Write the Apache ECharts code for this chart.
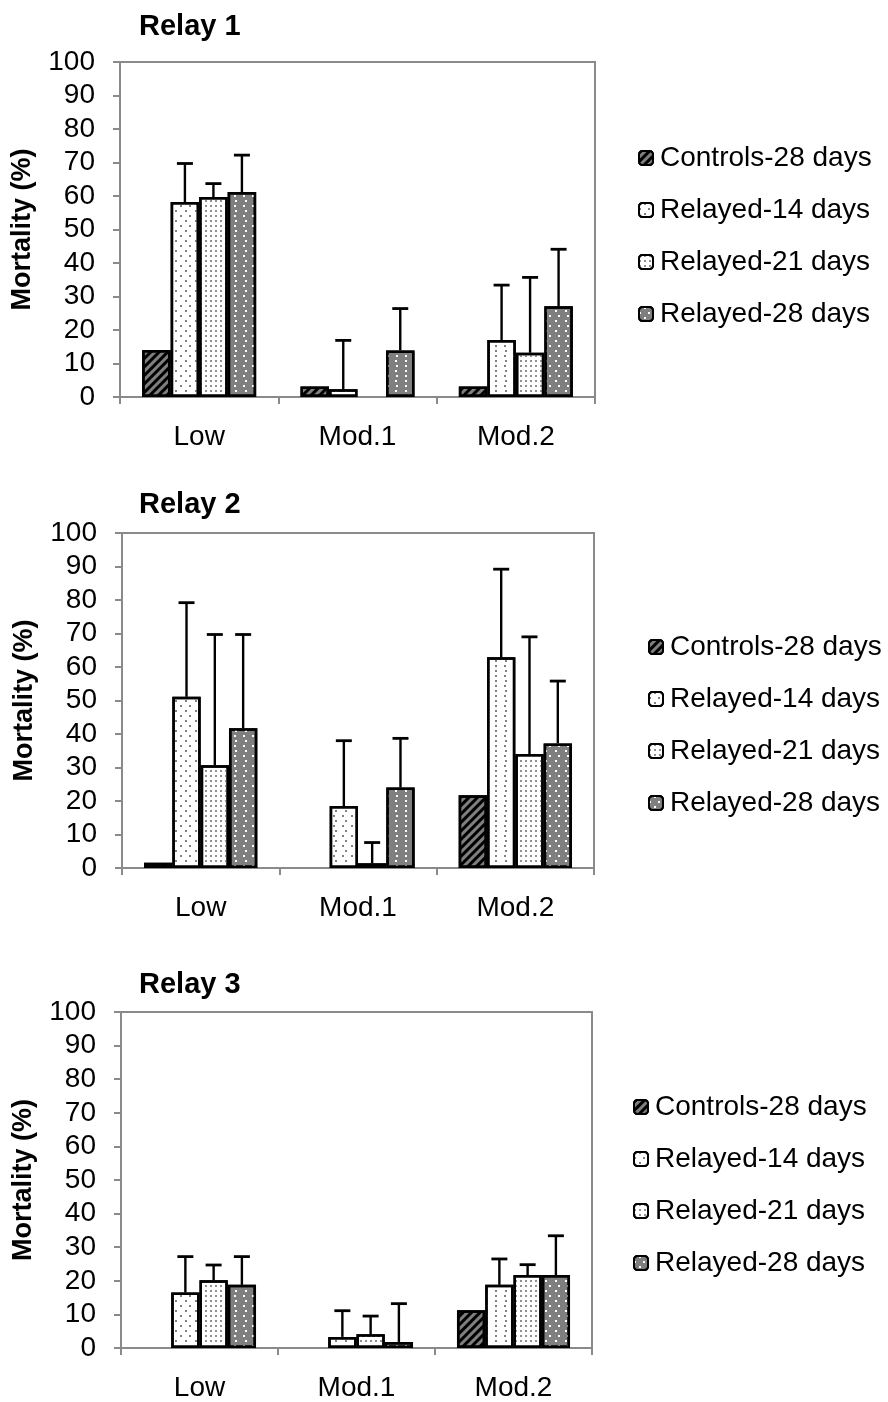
<!DOCTYPE html>
<html>
<head>
<meta charset="utf-8">
<script src="https://cdn.jsdelivr.net/npm/echarts@6/dist/echarts.min.js"></script>
<style>html,body{margin:0;padding:0;background:#fff}#c{width:888px;height:1402px}</style>
</head>
<body>
<div id="c"></div>
<script>
// ---- data ----
var categories = ['Low', 'Mod.1', 'Mod.2'];
var seriesNames = ['Controls-28 days', 'Relayed-14 days', 'Relayed-21 days', 'Relayed-28 days'];
var yTicks = [0, 10, 20, 30, 40, 50, 60, 70, 80, 90, 100];
var chartTitles = ['Relay 1', 'Relay 2', 'Relay 3'];

// Relay 1 means and upper error (SD)
var relay1Controls = [14.0, 3.1, 3.1];
var relay1R14 = [58.2, 2.3, 17.0];
var relay1R21 = [59.7, null, 13.2];
var relay1R28 = [61.2, 13.9, 27.1];
var relay1ControlsErr = [null, null, null];
var relay1R14Err = [11.5, 14.6, 16.4];
var relay1R21Err = [4.0, null, 22.5];
var relay1R28Err = [11.0, 12.5, 17.0];

// Relay 2
var relay2Controls = [1.6, null, 21.7];
var relay2R14 = [51.1, 18.5, 62.9];
var relay2R21 = [30.7, 1.4, 34.0];
var relay2R28 = [41.7, 24.0, 37.2];
var relay2ControlsErr = [null, null, null];
var relay2R14Err = [28.1, 19.5, 26.3];
var relay2R21Err = [39.0, 6.2, 35.0];
var relay2R28Err = [28.0, 14.7, 18.6];

// Relay 3
var relay3Controls = [null, null, 11.2];
var relay3R14 = [16.5, 3.3, 18.8];
var relay3R21 = [20.2, 4.1, 21.7];
var relay3R28 = [18.8, 1.8, 21.7];
var relay3ControlsErr = [null, null, null];
var relay3R14Err = [10.7, 7.8, 7.7];
var relay3R21Err = [4.5, 5.4, 3.1];
var relay3R28Err = [8.4, 11.4, 11.7];

var charts = [
  { means: [relay1Controls, relay1R14, relay1R21, relay1R28], errs: [relay1ControlsErr, relay1R14Err, relay1R21Err, relay1R28Err] },
  { means: [relay2Controls, relay2R14, relay2R21, relay2R28], errs: [relay2ControlsErr, relay2R14Err, relay2R21Err, relay2R28Err] },
  { means: [relay3Controls, relay3R14, relay3R21, relay3R28], errs: [relay3ControlsErr, relay3R14Err, relay3R21Err, relay3R28Err] }
];

// ---- layout / style ----
var FONT = '"Liberation Sans", Arial, sans-serif';
var AXIS_GRAY = '#8a8a8a';
var grids = [
  { left: 120, top: 62, width: 475, height: 335 },
  { left: 122, top: 533, width: 472, height: 335 },
  { left: 121, top: 1012, width: 471, height: 338 }
];
var titlePos = [{ left: 139, top: 12 }, { left: 139, top: 490 }, { left: 139, top: 970 }];
var legendPos = [{ left: 638, top: 143 }, { left: 648, top: 632 }, { left: 633, top: 1092 }];
var CAT_GAP = 0.28;

var stag = [[2, 7], [0, 4.5, 2, 2.5]];
var styles = [
  { color: '#7f7f7f', decal: { symbol: 'rect', symbolSize: 1, color: '#000', dashArrayX: [1, 0], dashArrayY: [2.4, 2.4], rotation: -Math.PI / 4 } },
  { color: '#ffffff', decal: { symbol: 'rect', symbolSize: 1, color: '#808080', dashArrayX: stag, dashArrayY: [2, 2.3] } },
  { color: '#ffffff', decal: { symbol: 'rect', symbolSize: 1, color: '#909090', dashArrayX: [2, 2.2], dashArrayY: [2, 2.2] } },
  { color: '#7f7f7f', decal: { symbol: 'rect', symbolSize: 1, color: '#ffffff', dashArrayX: stag, dashArrayY: [2, 2.3] } }
];

var option = {
  animation: false,
  backgroundColor: '#fff',
  title: [], grid: [], xAxis: [], yAxis: [], legend: [], series: []
};

charts.forEach(function (ch, k) {
  option.title.push({ text: chartTitles[k], left: titlePos[k].left, top: titlePos[k].top, padding: 0,
    textStyle: { fontFamily: FONT, fontSize: 29, fontWeight: 'bold', color: '#000' } });
  option.grid.push({ left: grids[k].left, top: grids[k].top, width: grids[k].width, height: grids[k].height,
    show: true, borderColor: AXIS_GRAY, borderWidth: 2, backgroundColor: 'transparent' });
  option.xAxis.push({ type: 'category', gridIndex: k, data: categories,
    axisLine: { show: true, lineStyle: { color: AXIS_GRAY, width: 2 } },
    axisTick: { show: true, length: 7, lineStyle: { color: AXIS_GRAY, width: 2 } },
    axisLabel: { fontFamily: FONT, fontSize: 28, color: '#000', margin: 26 },
    splitLine: { show: false } });
  option.yAxis.push({ type: 'value', gridIndex: k, min: 0, max: 100, interval: 10,
    name: 'Mortality (%)', nameLocation: 'middle', nameRotate: 90, nameGap: 84,
    nameTextStyle: { fontFamily: FONT, fontSize: 27, fontWeight: 'bold', color: '#000' },
    axisLine: { show: true, lineStyle: { color: AXIS_GRAY, width: 2 } },
    axisTick: { show: true, length: 7, lineStyle: { color: AXIS_GRAY, width: 2 } },
    axisLabel: { fontFamily: FONT, fontSize: 28, color: '#000', margin: 25,
      formatter: function (v) { return yTicks.indexOf(v) >= 0 ? String(v) : ''; } },
    splitLine: { show: false } });
  option.legend.push({ orient: 'vertical', left: legendPos[k].left, top: legendPos[k].top, padding: 0,
    data: seriesNames, itemWidth: 14, itemHeight: 14, itemGap: 22, selectedMode: false,
    textStyle: { fontFamily: FONT, fontSize: 28, color: '#000', lineHeight: 30, padding: [0, 0, 0, 2] } });

  ch.means.forEach(function (vals, i) {
    option.series.push({ type: 'bar', name: seriesNames[i], xAxisIndex: k, yAxisIndex: k,
      data: vals, barGap: '0%', barCategoryGap: (CAT_GAP * 100) + '%',
      itemStyle: { color: styles[i].color, borderColor: '#000', borderWidth: 2.5, decal: styles[i].decal },
      emphasis: { disabled: true } });
  });
  ch.means.forEach(function (vals, i) {
    var d = [];
    vals.forEach(function (v, c) { if (v != null && ch.errs[i][c] != null) d.push([c, v, v + ch.errs[i][c]]); });
    if (!d.length) return;
    option.series.push({ type: 'custom', name: 'err' + k + '_' + i, xAxisIndex: k, yAxisIndex: k, z: 5,
      data: d, encode: { x: 0, y: [1, 2] }, silent: true,
      renderItem: (function (idx) {
        return function (params, api) {
          var c = api.value(0);
          var band = api.size([1, 0])[0];
          var bw = band * (1 - CAT_GAP) / 4;
          var p0 = api.coord([c, api.value(1)]);
          var p1 = api.coord([c, api.value(2)]);
          var x = p0[0] + (idx - 1.5) * bw;
          var half = 8;
          return { type: 'group', children: [
            { type: 'line', shape: { x1: x, y1: p0[1], x2: x, y2: p1[1] }, style: { stroke: '#000', lineWidth: 2.4 } },
            { type: 'line', shape: { x1: x - half, y1: p1[1], x2: x + half, y2: p1[1] }, style: { stroke: '#000', lineWidth: 2.8 } }
          ] };
        };
      })(i) });
  });
});

var chart = echarts.init(document.getElementById('c'), null, { renderer: 'canvas' });
chart.setOption(option);
</script>
</body>
</html>
